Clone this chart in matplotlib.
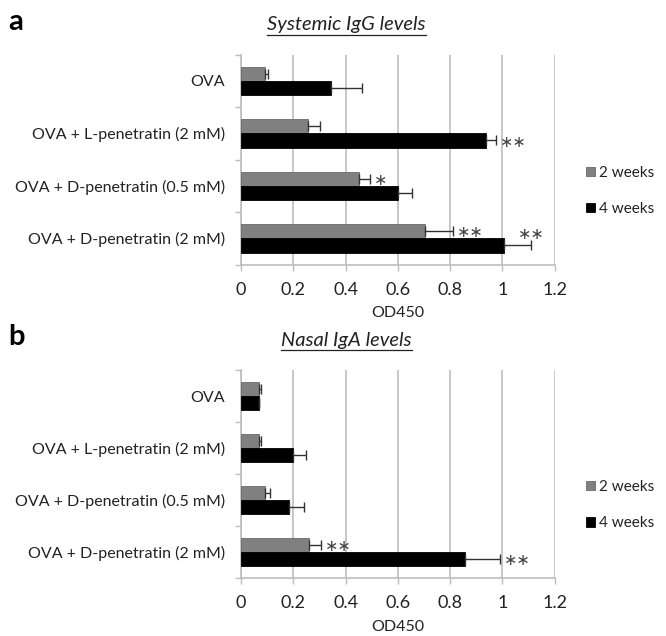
import numpy as np
import matplotlib.pyplot as plt
from matplotlib.lines import Line2D

plt.rcParams["font.family"] = ["Lato", "DejaVu Sans"]

groups = ["OVA", "OVA + L-penetratin (2 mM)", "OVA + D-penetratin (0.5 mM)",
          "OVA + D-penetratin (2 mM)"]
series = ["2 weeks", "4 weeks"]

# panel a - systemic IgG
igg_2wk = [0.09, 0.255, 0.45, 0.705]
igg_2wk_err = [0.013, 0.045, 0.045, 0.105]
igg_4wk = [0.345, 0.935, 0.60, 1.005]
igg_4wk_err = [0.118, 0.04, 0.055, 0.105]
igg_stars_2wk = ["", "", "*", "**"]
igg_stars_4wk = ["", "**", "", "**"]

# panel b - nasal IgA
iga_2wk = [0.068, 0.068, 0.092, 0.258]
iga_2wk_err = [0.01, 0.01, 0.02, 0.047]
iga_4wk = [0.07, 0.20, 0.183, 0.858]
iga_4wk_err = [0.0, 0.05, 0.057, 0.132]
iga_stars_2wk = ["", "", "", "**"]
iga_stars_4wk = ["", "", "", "**"]

ticks = [0, 0.2, 0.4, 0.6, 0.8, 1.0, 1.2]
tick_labels = ["0", "0.2", "0.4", "0.6", "0.8", "1", "1.2"]

GREY = "#808080"
LINE = "#bdbdbd"
TXT = "#222222"
FS = 11.5

fig = plt.figure(figsize=(6.66, 6.36), dpi=100)


def panel(rect, v2, e2, v4, e4, s2, s4, title, letter, letter_y, title_y, leg_y):
    ax = fig.add_axes(rect)
    n = len(groups)
    y = np.arange(n)
    h = 0.27
    ax.barh(y - h / 2, v2, height=h, color=GREY, edgecolor="#6a6a6a",
            linewidth=0.6, label=series[0], zorder=3)
    ax.barh(y + h / 2, v4, height=h, color="black", edgecolor="black",
            linewidth=0.6, label=series[1], zorder=3)
    ax.errorbar(v2, y - h / 2, xerr=[np.zeros(n), e2], fmt="none",
                ecolor="#333333", elinewidth=1, capsize=3.5, zorder=4)
    ax.errorbar(v4, y + h / 2, xerr=[np.zeros(n), e4], fmt="none",
                ecolor="#333333", elinewidth=1, capsize=3.5, zorder=4)
    star_kw = dict(va="center", fontsize=11.5, color="#444444",
                   family="DejaVu Sans", zorder=5)
    for i in range(n):
        if s2[i]:
            ax.text(v2[i] + e2[i] + 0.015, y[i] - h / 2 + 0.03,
                    s2[i].replace("*", "∗"), ha="left", **star_kw)
        if s4[i]:
            yy = y[i] + h / 2 + 0.03
            ha = "left"
            xx = v4[i] + e4[i] + 0.015
            if s2[i] and e4[i] + v4[i] > 1.05:
                # raised above the bar when it runs long
                yy = y[i] - 0.07
                xx = v4[i] + e4[i]
                ha = "center"
            ax.text(xx, yy, s4[i].replace("*", "∗"), ha=ha, **star_kw)

    ax.set_xlim(0, 1.2)
    ax.set_ylim(n - 0.5, -0.5)
    ax.set_xticks(ticks)
    ax.set_xticklabels(tick_labels, fontsize=FS + 1.5, color=TXT)
    ax.set_yticks(y)
    ax.set_yticklabels(groups, fontsize=FS, color=TXT)
    ax.set_yticks(np.arange(n + 1) - 0.5, minor=True)
    ax.tick_params(axis="y", which="major", length=0, pad=11.5)
    ax.tick_params(axis="y", which="minor", length=4, color=LINE, width=1)
    ax.tick_params(axis="x", length=4, color=LINE, width=1, pad=8.5)
    ax.grid(axis="x", color=LINE, linewidth=1.2, zorder=0)
    for s in ["top", "right"]:
        ax.spines[s].set_visible(False)
    for s in ["left", "bottom"]:
        ax.spines[s].set_color(LINE)
        ax.spines[s].set_linewidth(1.2)
    ax.set_xlabel("OD450", fontsize=FS, color=TXT, labelpad=6)

    ax.legend(loc="center left", bbox_to_anchor=(1.1, leg_y), frameon=False,
              fontsize=11, handlelength=0.55, handleheight=0.55,
              handletextpad=0.3, labelspacing=1.45, borderpad=0,
              borderaxespad=0, labelcolor=TXT)

    fig.text(0.012, letter_y, letter, fontsize=21, fontweight="bold", va="center")
    t = fig.text(0.52, title_y, title, fontsize=14.5, style="italic",
                 ha="center", va="center", color=TXT)
    fig.canvas.draw()
    bb = t.get_window_extent().transformed(fig.transFigure.inverted())
    fig.add_artist(Line2D([bb.x0, bb.x1], [bb.y0 - 0.002, bb.y0 - 0.002],
                          color=TXT, linewidth=0.9))
    return ax


panel([0.362, 0.584, 0.471, 0.330], igg_2wk, igg_2wk_err, igg_4wk, igg_4wk_err,
      igg_stars_2wk, igg_stars_4wk, "Systemic IgG levels", "a", 0.966, 0.961, 0.35)
panel([0.362, 0.091, 0.471, 0.327], iga_2wk, iga_2wk_err, iga_4wk, iga_4wk_err,
      iga_stars_2wk, iga_stars_4wk, "Nasal IgA levels", "b", 0.47, 0.465, 0.35)

fig.savefig("out.png", dpi=100)
